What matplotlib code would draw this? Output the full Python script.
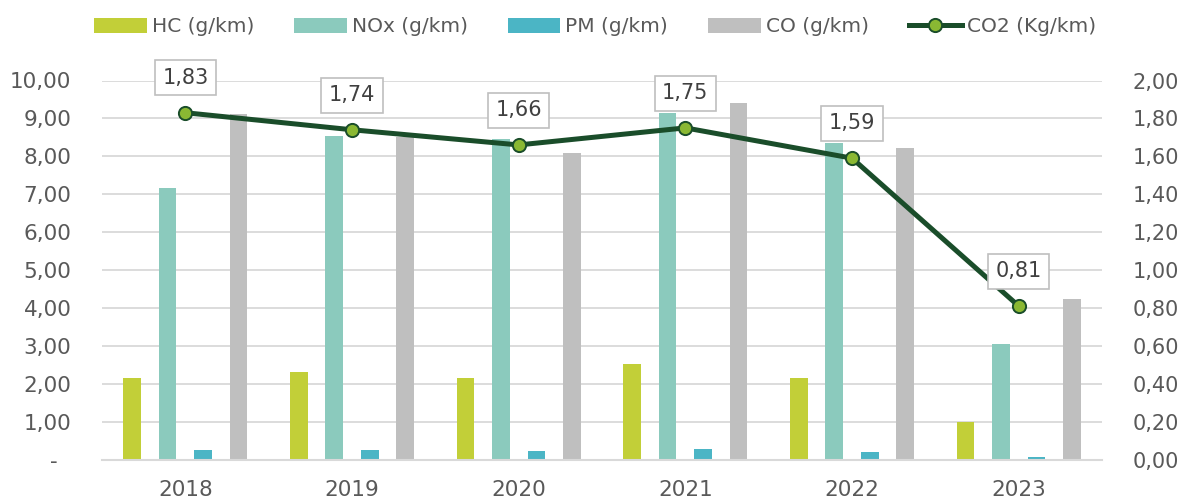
import matplotlib
matplotlib.use("Agg")
import matplotlib.pyplot as plt
from matplotlib.ticker import FuncFormatter, MultipleLocator
from matplotlib.lines import Line2D
from matplotlib.patches import Patch
import numpy as np

plt.rcParams['font.family'] = ['DejaVu Sans']

years = ["2018", "2019", "2020", "2021", "2022", "2023"]
hc = [2.15, 2.30, 2.15, 2.51, 2.15, 0.98]
nox = [7.17, 8.54, 8.46, 9.15, 8.35, 3.04]
pm = [0.247, 0.247, 0.23, 0.265, 0.21, 0.07]
co = [9.12, 8.50, 8.08, 9.41, 8.21, 4.23]
co2 = [1.83, 1.74, 1.66, 1.75, 1.59, 0.81]

series_names = ["HC (g/km)", "NOx (g/km)", "PM (g/km)", "CO (g/km)"]
co2_name = "CO2 (Kg/km)"

c_hc = "#C2CF38"
c_nox = "#8BCABD"
c_pm = "#4BB5C5"
c_co = "#BFBFBF"
c_line = "#1A4D2A"
c_mark = "#8AB833"
txt = "#595959"
grid = "#D9D9D9"

fig = plt.figure(figsize=(11.9, 5.01), dpi=100)
ax = fig.add_axes([102/1190, 41.5/501, 1000/1190, 379/501])

x = np.arange(len(years))
slot = 0.213
w = 0.106
for i, (vals, col) in enumerate(zip([hc, nox, pm, co], [c_hc, c_nox, c_pm, c_co])):
    ax.bar(x + (i - 1.5) * slot, vals, width=w, color=col, zorder=2)

ax.set_xlim(-0.5, len(years) - 0.5)
ax.set_ylim(0, 10)
ax.yaxis.set_major_locator(MultipleLocator(1))
ax.yaxis.set_major_formatter(FuncFormatter(
    lambda v, p: "-  " if abs(v) < 1e-9 else f"{v:.2f}".replace(".", ",")))
ax.set_xticks(x)
ax.set_xticklabels(years)
ax.set_axisbelow(True)
ax.grid(axis='y', color=grid, linewidth=1.3, zorder=0)
for s in ["top", "right", "left"]:
    ax.spines[s].set_visible(False)
ax.spines["bottom"].set_color(grid)
ax.spines["bottom"].set_linewidth(1.5)
ax.tick_params(axis='y', length=0, pad=22, labelsize=15.5, labelcolor=txt)
ax.tick_params(axis='x', length=0, pad=15, labelsize=15.5, labelcolor=txt)

ax2 = ax.twinx()
ax2.set_ylim(0, 2)
ax2.yaxis.set_major_locator(MultipleLocator(0.2))
ax2.yaxis.set_major_formatter(FuncFormatter(lambda v, p: f"{v:.2f}".replace(".", ",")))
for s in ["top", "right", "left", "bottom"]:
    ax2.spines[s].set_visible(False)
ax2.tick_params(axis='y', length=0, pad=22, labelsize=15, labelcolor=txt)
ax2.plot(x, co2, color=c_line, linewidth=3.6, marker='o', markersize=9.5,
         markerfacecolor=c_mark, markeredgecolor=c_line, markeredgewidth=1.4, zorder=3)
for xi, v in zip(x, co2):
    ax2.annotate(f"{v:.2f}".replace(".", ","), (xi, v), xytext=(0, 25),
                 textcoords='offset points', ha='center', va='center',
                 fontsize=15, color="#404040", zorder=5,
                 bbox=dict(boxstyle='square,pad=0.36', facecolor='white',
                           edgecolor='#BFBFBF', linewidth=1.2))

handles = [Patch(facecolor=c, edgecolor='none') for c in [c_hc, c_nox, c_pm, c_co]]
handles.append(Line2D([0], [0], color=c_line, linewidth=3.6, marker='o', markersize=9.5,
                      markerfacecolor=c_mark, markeredgecolor=c_line, markeredgewidth=1.4))
leg = fig.legend(handles, series_names + [co2_name], loc='center', bbox_to_anchor=(0.5, 1 - 27/501),
                 ncol=5, frameon=False, fontsize=14.5, handlelength=2.6, handleheight=0.7,
                 handletextpad=0.25, columnspacing=2.0)
for t in leg.get_texts():
    t.set_color(txt)

fig.savefig("out.png", dpi=100)
